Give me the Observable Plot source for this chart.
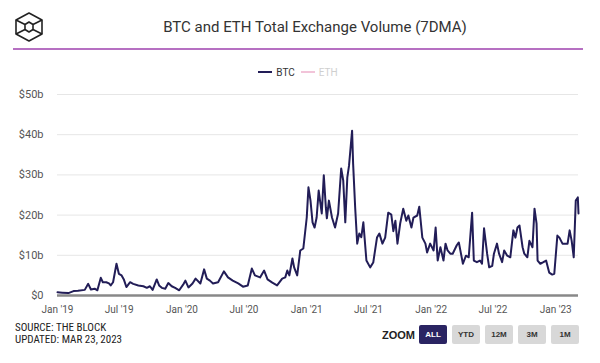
<!DOCTYPE html>
<html>
<head>
<meta charset="utf-8">
<script src="https://cdn.jsdelivr.net/npm/d3@7"></script>
<script src="https://cdn.jsdelivr.net/npm/@observablehq/plot@0.6"></script>
<style>
  html, body { margin: 0; padding: 0; background: #fff; }
  #wrap { position: relative; width: 600px; height: 363px; overflow: hidden; font-family: Roboto, "Noto Sans", sans-serif; color: #333; }
  .abs { position: absolute; }
  #title { left: 0; width: 630px; top: 18px; text-align: center; font-size: 15px; color: #333; }
  #rule { left: 13px; top: 48px; width: 570px; height: 2px; background: #b670c2; }
  #legend { left: 0; width: 596px; top: 67px; text-align: center; font-size: 10px; }
  .lg { display: inline-block; margin: 0 3px; }
  .sw { display: inline-block; width: 14px; height: 2px; vertical-align: middle; margin-right: 4px; position: relative; top: -1px; }
  #chart { left: 0; top: 80px; }
  .foot { left: 15px; font-family: "Liberation Sans Narrow", "Roboto Condensed", Roboto, sans-serif; font-size: 11px; line-height: 11px; height: 11px; color: #222; white-space: nowrap; }
  #zoomlbl { left: 382px; top: 329px; font-size: 11px; font-weight: bold; color: #222; font-family: "Liberation Sans", Arial, sans-serif; }
  .btn { top: 325px; width: 28px; height: 19px; border-radius: 2px; background: #d8d8d8; color: #333; font-size: 8px; font-weight: bold; text-align: center; line-height: 19px; font-family: "Liberation Sans", Arial, sans-serif; }
  .btn.on { background: #2a2462; color: #fff; }
</style>
</head>
<body>
<div id="wrap">
  <svg class="abs" style="left:13px;top:11px" width="32" height="32" viewBox="0 0 32 32">
    <g fill="none" stroke="#222" stroke-width="1.6" stroke-linejoin="round">
      <polygon points="16,2 29,9 29,23 16,30 3,23 3,9"/>
      <polygon points="16,11 20,13.5 20,18.5 16,21 12,18.5 12,13.5"/>
      <line x1="3" y1="9" x2="12" y2="13.5"/>
      <line x1="29" y1="9" x2="20" y2="13.5"/>
      <line x1="3" y1="23" x2="12" y2="18.5"/>
      <line x1="29" y1="23" x2="20" y2="18.5"/>
    </g>
  </svg>
  <div id="title" class="abs">BTC and ETH Total Exchange Volume (7DMA)</div>
  <div id="rule" class="abs"></div>
  <div id="legend" class="abs"></div>
  <div id="chart" class="abs"></div>
  <div class="abs foot" style="top:322px">SOURCE: THE BLOCK</div>
  <div class="abs foot" style="top:334px">UPDATED: MAR 23, 2023</div>
  <div id="zoomlbl" class="abs">ZOOM</div>
  <div id="buttons"></div>
</div>
<script>
// ---- data (values in billions USD, 7-day moving average of BTC exchange volume) ----
const seriesNames = ["BTC", "ETH"];
const seriesColors = ["#221d57", "#f2c4d9"];
const zoomButtons = ["ALL", "YTD", "12M", "3M", "1M"];
const yTicks = [0, 10, 20, 30, 40, 50];
const xTickDates = ["2019-01-01","2019-07-01","2020-01-01","2020-07-01","2021-01-01","2021-07-01","2022-01-01","2022-07-01","2023-01-01"];

const btcDates = [
"2019-01-01","2019-01-15","2019-02-02","2019-02-17","2019-03-02","2019-03-22","2019-04-01","2019-04-09","2019-04-20","2019-04-28",
"2019-05-08","2019-05-14","2019-05-24","2019-06-01","2019-06-06","2019-06-13","2019-06-23","2019-06-30","2019-07-08","2019-07-15",
"2019-07-22","2019-08-02","2019-08-11","2019-08-26","2019-09-10","2019-09-20","2019-09-29","2019-10-07","2019-10-19","2019-10-26",
"2019-11-03","2019-11-13","2019-11-22","2019-12-02","2019-12-12","2019-12-24","2020-01-06","2020-01-11","2020-01-20","2020-02-01",
"2020-02-10","2020-02-24","2020-03-06","2020-03-14","2020-03-23","2020-04-01","2020-04-16","2020-05-03","2020-05-15","2020-05-29",
"2020-06-14","2020-06-28","2020-07-12","2020-07-24","2020-08-02","2020-08-17","2020-08-29","2020-09-08","2020-09-22","2020-10-06",
"2020-10-21","2020-10-30","2020-11-05","2020-11-11","2020-11-20","2020-11-25","2020-12-04","2020-12-13","2020-12-22","2021-01-01",
"2021-01-06","2021-01-12","2021-01-18","2021-01-24","2021-01-30","2021-02-05","2021-02-14","2021-02-20","2021-02-26","2021-03-01",
"2021-03-07","2021-03-16","2021-03-25","2021-04-03","2021-04-12","2021-04-18","2021-04-24","2021-04-30","2021-05-05","2021-05-14",
"2021-05-17","2021-05-23","2021-05-29","2021-06-04","2021-06-10","2021-06-16","2021-06-25","2021-07-06","2021-07-15","2021-07-26",
"2021-08-02","2021-08-11","2021-08-19","2021-08-28","2021-09-06","2021-09-12","2021-09-18","2021-09-24","2021-10-02","2021-10-11",
"2021-10-20","2021-10-26","2021-11-04","2021-11-10","2021-11-21","2021-11-27","2021-12-06","2021-12-15","2021-12-20","2021-12-29",
"2022-01-08","2022-01-14","2022-01-20","2022-01-28","2022-02-06","2022-02-12","2022-02-18","2022-02-26","2022-03-05","2022-03-17",
"2022-03-23","2022-04-04","2022-04-13","2022-04-21","2022-05-01","2022-05-06","2022-05-15","2022-05-24","2022-05-30","2022-06-05",
"2022-06-14","2022-06-20","2022-06-29","2022-07-04","2022-07-13","2022-07-19","2022-07-28","2022-08-03","2022-08-12","2022-08-21",
"2022-08-30","2022-09-05","2022-09-11","2022-09-17","2022-09-26","2022-10-01","2022-10-10","2022-10-16","2022-10-25","2022-10-31",
"2022-11-06","2022-11-09","2022-11-17","2022-11-26","2022-12-04","2022-12-13","2022-12-22","2022-12-28","2023-01-06","2023-01-12",
"2023-01-21","2023-01-30","2023-02-05","2023-02-11","2023-02-17","2023-02-23","2023-03-01","2023-03-07","2023-03-09"
];
const btcVolume = [
0.8,0.7,0.6,1.1,1.2,1.4,2.9,1.5,1.7,1.3,
4.4,3.3,3.3,3.0,2.5,3.3,7.9,5.4,5.0,3.9,
2.1,3.3,2.9,2.5,2.3,1.9,2.3,1.4,4.0,2.5,
1.9,1.7,3.1,2.3,1.9,1.3,2.9,3.7,2.0,3.0,
4.2,3.0,6.5,4.2,3.7,3.0,3.3,6.0,4.5,3.7,
3.0,2.2,2.5,6.7,5.0,4.5,6.2,4.0,3.2,2.5,
4.2,4.5,6.2,5.0,9.2,7.0,5.0,11.2,11.7,19.4,
26.9,23.6,18.2,16.9,19.4,26.1,20.4,29.9,21.9,19.2,
23.6,19.4,16.9,20.4,31.6,28.6,18.2,29.4,32.3,41.0,
32.8,21.9,12.9,15.4,14.5,18.2,8.7,7.0,8.2,14.4,
15.4,12.9,14.4,20.6,20.1,16.0,18.6,12.9,17.9,21.6,
18.6,19.9,16.9,19.4,19.9,22.1,14.4,12.9,10.7,12.9,
11.2,16.9,8.7,12.0,8.7,12.9,11.2,10.4,10.4,12.5,
13.2,7.9,9.9,9.5,20.6,8.7,8.3,8.7,7.9,16.7,
10.4,7.0,7.4,10.4,12.9,10.4,8.3,11.2,9.9,9.5,
16.2,14.4,16.9,17.4,12.0,10.4,9.5,13.6,12.0,21.6,
17.9,8.7,7.9,8.3,8.7,5.7,5.2,5.4,14.9,14.4,
12.9,12.9,12.9,16.2,13.6,9.5,23.6,24.4,20.4
];

const data = btcDates.map((d, i) => ({date: new Date(d + "T00:00:00Z"), value: btcVolume[i]}));
const months = ["Jan","Feb","Mar","Apr","May","Jun","Jul","Aug","Sep","Oct","Nov","Dec"];
const fmtX = d => `${months[d.getUTCMonth()]} '${String(d.getUTCFullYear()).slice(2)}`;
const fmtY = v => v === 0 ? "$0" : `$${v}b`;

// legend
const legend = document.getElementById("legend");
seriesNames.forEach((n, i) => {
  const s = document.createElement("span");
  s.className = "lg";
  s.innerHTML = `<span class="sw" style="background:${seriesColors[i]}"></span><span style="color:${i === 0 ? "#333" : "#cfcfcf"}">${n}</span>`;
  legend.appendChild(s);
});

// zoom buttons
const btnX = [419, 452, 485, 518, 551];
const bwrap = document.getElementById("buttons");
zoomButtons.forEach((b, i) => {
  const el = document.createElement("div");
  el.className = "abs btn" + (i === 0 ? " on" : "");
  el.style.left = btnX[i] + "px";
  el.textContent = b;
  bwrap.appendChild(el);
});

const chart = Plot.plot({
  width: 600,
  height: 240,
  marginLeft: 57,
  marginRight: 22,
  marginTop: 14,
  marginBottom: 25,
  style: {fontFamily: "Roboto, sans-serif", fontSize: "10px", color: "#555", background: "transparent"},
  x: {type: "utc", domain: [new Date("2019-01-01T00:00:00Z"), new Date("2023-03-09T00:00:00Z")]},
  y: {domain: [0, 50]},
  marks: [
    Plot.gridY(yTicks, {stroke: "#e6e6e6", strokeOpacity: 1}),
    Plot.axisY(yTicks, {tickSize: 0, tickPadding: 14, tickFormat: fmtY, label: null, fontSize: 11, fill: "#555"}),
    Plot.axisX(xTickDates.map(d => new Date(d + "T00:00:00Z")), {tickSize: 0, tickPadding: 10, tickFormat: fmtX, label: null, fontSize: 10, fill: "#555"}),
    Plot.ruleY([0], {stroke: "#888", strokeWidth: 2.5}),
    Plot.lineY(data, {x: "date", y: "value", stroke: seriesColors[0], strokeWidth: 2, curve: "linear"})
  ]
});
document.getElementById("chart").appendChild(chart);
</script>
</body>
</html>
